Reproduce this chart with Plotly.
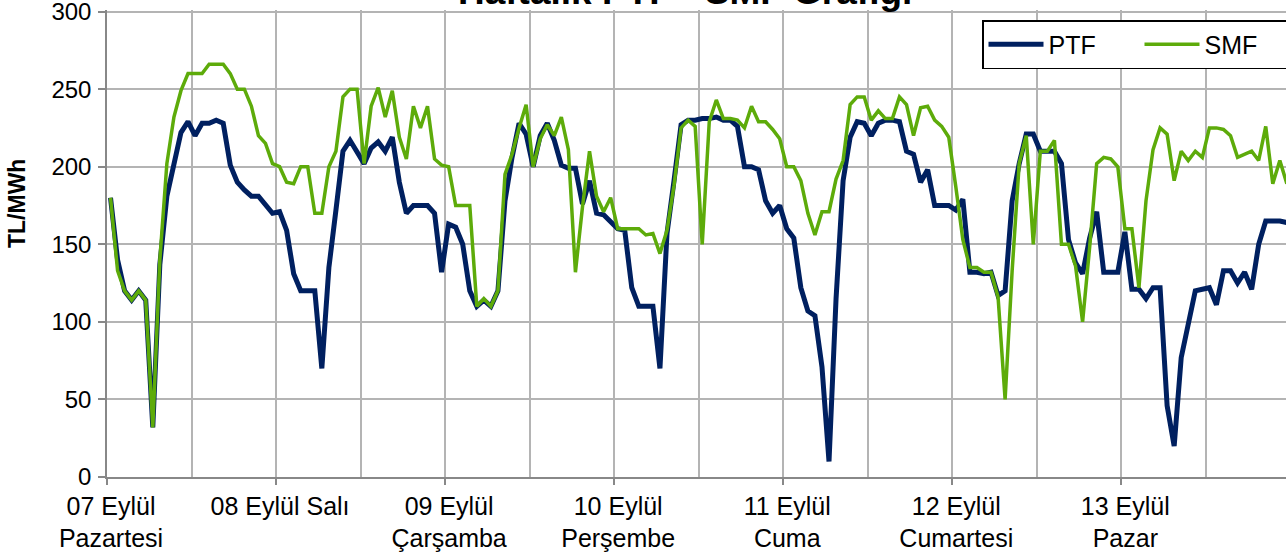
import plotly.graph_objects as go

# Hourly values, 07-13 September (24 hours per day)
hours = list(range(168))
ptf = [
    180, 140, 120, 114, 120, 114, 32, 137, 181, 202, 222, 229, 220, 228, 228, 230, 228, 201, 190, 185, 181, 181, 175, 170,
    171, 159, 131, 120, 120, 120, 70, 135, 172, 210, 217, 210, 202, 212, 216, 210, 219, 190, 170, 175, 175, 175, 170, 132,
    163, 161, 150, 120, 110, 114, 110, 120, 178, 206, 228, 221, 200, 220, 228, 217, 201, 199, 199, 176, 191, 170, 169, 165,
    160, 159, 122, 110, 110, 110, 70, 157, 191, 227, 230, 230, 231, 231, 232, 230, 230, 226, 200, 200, 198, 178, 170, 175,
    160, 154, 122, 107, 104, 71, 10, 115, 191, 219, 229, 228, 220, 228, 230, 230, 229, 210, 208, 190, 198, 175, 175, 175,
    172, 179, 132, 132, 131, 132, 117, 120, 178, 202, 221, 221, 210, 210, 210, 202, 153, 138, 131, 154, 171, 132, 132, 132,
    158, 121, 121, 115, 122, 122, 46, 20, 77, 98, 120, 121, 122, 111, 133, 133, 125, 132, 121, 150, 165, 165, 165, 164,
]
smf = [
    180, 133, 120, 114, 120, 114, 32, 140, 202, 232, 249, 260, 260, 260, 266, 266, 266, 260, 250, 250, 239, 220, 215, 202,
    200, 190, 189, 200, 200, 170, 170, 200, 210, 245, 250, 250, 202, 239, 251, 232, 249, 219, 205, 239, 225, 239, 205, 201,
    200, 175, 175, 175, 110, 115, 110, 120, 195, 208, 225, 240, 200, 218, 227, 220, 232, 211, 132, 174, 210, 181, 171, 180,
    160, 160, 160, 160, 156, 157, 144, 159, 188, 225, 230, 226, 150, 229, 243, 231, 231, 230, 225, 239, 229, 229, 224, 218,
    200, 200, 191, 170, 156, 171, 171, 192, 204, 240, 245, 245, 230, 236, 231, 231, 245, 240, 220, 238, 239, 230, 226, 219,
    187, 153, 135, 135, 132, 132, 116, 50, 133, 202, 220, 150, 210, 210, 217, 150, 150, 136, 100, 148, 202, 206, 205, 200,
    160, 160, 122, 178, 211, 225, 221, 191, 210, 204, 210, 206, 225, 225, 224, 220, 206, 208, 210, 204, 226, 189, 204, 189,
]
day_labels = [
    "07 Eylül<br>Pazartesi", "08 Eylül Salı", "09 Eylül<br>Çarşamba", "10 Eylül<br>Perşembe",
    "11 Eylül<br>Cuma", "12 Eylül<br>Cumartesi", "13 Eylül<br>Pazar",
]
y_ticks = [0, 50, 100, 150, 200, 250, 300]
title_text = "Haftalık PTF - SMF Grafiği"
y_title = "TL/MWh"

FONT = "Arial, Liberation Sans, sans-serif"
W, H = 1286, 558
ML, MR, MT, MB = 107, 0, 10, 81
PW, PH = W - ML - MR, H - MT - MB

fig = go.Figure()
fig.add_trace(go.Scatter(x=hours, y=ptf, mode="lines", name="PTF",
                         line=dict(color="#002060", width=5)))
fig.add_trace(go.Scatter(x=hours, y=smf, mode="lines", name="SMF",
                         line=dict(color="#5DAB0A", width=3.5)))

day_bounds = [d * 24 - 0.5 for d in range(7)]
mid_bounds = [d * 24 + 11.5 for d in range(7)]

fig.update_layout(
    width=W, height=H,
    margin=dict(l=ML, r=MR, t=MT, b=MB, autoexpand=False),
    paper_bgcolor="white", plot_bgcolor="white",
    font=dict(family=FONT, size=25, color="black"),
    showlegend=True,
    legend=dict(
        orientation="h",
        x=(982 - ML) / PW, y=1 - (20 - MT) / PH,
        xanchor="left", yanchor="top",
        bordercolor="black", borderwidth=1.5, bgcolor="white",
        font=dict(family=FONT, size=25, color="black"),
        itemwidth=55,
        entrywidth=86, entrywidthmode="pixels",
    ),
    xaxis=dict(
        automargin=False,
        range=[-0.5, -0.5 + PW / 7.044],
        tickmode="array", tickvals=day_bounds, ticktext=day_labels,
        ticks="outside", ticklen=6, tickcolor="#888888", tickwidth=1.5,
        ticklabelshift=4,
        showgrid=True, gridcolor="#B4B4B4", gridwidth=1.5,
        minor=dict(tickvals=mid_bounds, showgrid=True, gridcolor="#B4B4B4", gridwidth=1.5, ticks=""),
        showline=True, linecolor="#888888", linewidth=1.5,
        zeroline=False,
        tickfont=dict(family=FONT, size=25, color="black"),
    ),
    yaxis=dict(
        automargin=False,
        range=[0, 301], tickmode="array", tickvals=y_ticks,
        ticks="outside", ticklen=7, tickcolor="#888888", tickwidth=1.5,
        ticklabelstandoff=2, ticklabeloverflow="allow",
        showgrid=True, gridcolor="#B4B4B4", gridwidth=1.5,
        showline=True, linecolor="#888888", linewidth=1.5,
        zeroline=False,
        tickfont=dict(family=FONT, size=24, color="black"),
    ),
    annotations=[
        dict(text="<b>" + title_text + "</b>", xref="paper", yref="paper",
             x=(685 - ML) / PW, y=1 + (MT - 14) / PH, xanchor="center", yanchor="bottom",
             showarrow=False, font=dict(family=FONT, size=37, color="black")),
        dict(text="<b>" + y_title + "</b>", xref="paper", yref="paper",
             x=(17 - ML) / PW, y=1 - (204 - MT) / PH, xanchor="center", yanchor="middle",
             textangle=-90, showarrow=False, font=dict(family=FONT, size=23, color="black")),
    ],
)

fig.write_html("out.html", config={"displayModeBar": False},
               post_script="document.body.style.margin='0';")
